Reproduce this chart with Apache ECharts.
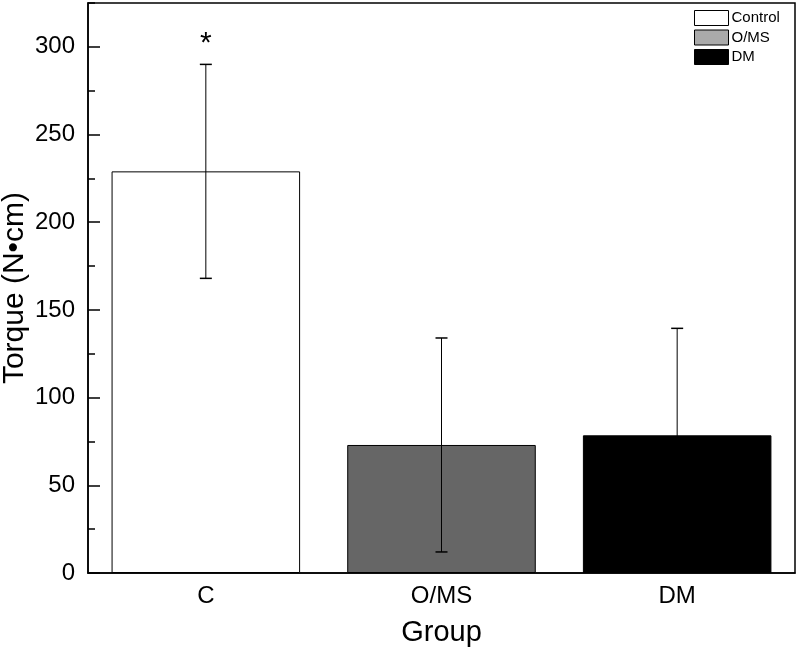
<!DOCTYPE html>
<html>
<head>
<meta charset="utf-8">
<script src="https://cdn.jsdelivr.net/npm/echarts@6/dist/echarts.min.js"></script>
<style>html,body{margin:0;padding:0;background:#fff}#chart{width:800px;height:657px}</style>
</head>
<body>
<div id="chart"></div>
<script>
const categories = ['C', 'O/MS', 'DM'];
const groupNames = ['Control', 'O/MS', 'DM'];
const means = [229, 73, 78.5];
const sds = [61, 61, 61];
const significance = ['*', '', ''];
const barColors = ['#ffffff', '#666666', '#000000'];
const legendColors = ['#ffffff', '#aaaaaa', '#000000'];
const yMin = 0, yMax = 325, yInterval = 50;

const FONT = 'Liberation Sans, Arial, Helvetica, sans-serif';
const chart = echarts.init(document.getElementById('chart'));

const barSeries = groupNames.map((name, i) => ({
  name: name,
  type: 'bar',
  barWidth: '80%',
  barGap: '-100%',
  data: categories.map((c, j) => (j === i ? means[j] : '-')),
  itemStyle: { color: barColors[i], borderColor: '#000', borderWidth: 1 },
  z: 2
}));

const errData = categories.map((c, j) => [j, means[j], sds[j], significance[j]]);

const option = {
  animation: false,
  backgroundColor: '#fff',
  textStyle: { fontFamily: FONT },
  grid: { left: 88, right: 5, top: 3, bottom: 84, show: true, borderColor: '#000', borderWidth: 1.5, backgroundColor: 'transparent', containLabel: false, outerBoundsMode: 'none' },
  legend: {
    orient: 'vertical', left: 689, top: 5, itemWidth: 34, itemHeight: 15, itemGap: 3.5,
    textStyle: { fontFamily: FONT, fontSize: 15, color: '#000', padding: [0, 0, 0, -2] },
    data: groupNames.map((n, i) => ({ name: n, icon: 'rect', itemStyle: { color: legendColors[i], borderColor: '#000', borderWidth: 1 } })),
    selectedMode: false
  },
  xAxis: {
    type: 'category', data: categories,
    name: 'Group', nameLocation: 'middle', nameGap: 45, nameMoveOverlap: false,
    nameTextStyle: { fontFamily: FONT, fontSize: 29, color: '#000' },
    axisLine: { lineStyle: { color: '#000', width: 1.5 } },
    axisTick: { show: false },
    axisLabel: { fontFamily: FONT, fontSize: 24, color: '#000', margin: 11 },
    splitLine: { show: false }
  },
  yAxis: [{
    type: 'value', min: yMin, max: yMax, interval: yInterval,
    name: 'Torque (N\u2022cm)', nameLocation: 'middle', nameGap: 58, nameMoveOverlap: false,
    nameTextStyle: { fontFamily: FONT, fontSize: 30, color: '#000' },
    axisLine: { show: true, lineStyle: { color: '#000', width: 1.5 } },
    axisTick: { show: true, inside: true, length: 12, lineStyle: { color: '#000', width: 1.5 } },
    axisLabel: { fontFamily: FONT, fontSize: 24, color: '#000', margin: 13, showMaxLabel: false },
    splitLine: { show: false }
  }, {
    type: 'value', min: yMin, max: yMax, interval: yInterval / 2, position: 'left',
    axisLine: { show: false },
    axisTick: { show: true, inside: true, length: 7, lineStyle: { color: '#000', width: 1.5 } },
    axisLabel: { show: false },
    splitLine: { show: false }
  }],
  series: barSeries.concat([{
    type: 'custom',
    name: 'err',
    data: errData,
    z: 5,
    renderItem: function (params, api) {
      const x = api.value(0), m = api.value(1), s = api.value(2);
      const top = api.coord([x, m + s]);
      const bot = api.coord([x, m - s]);
      const hw = 6;
      const children = [
        { type: 'line', shape: { x1: top[0], y1: top[1], x2: bot[0], y2: bot[1] }, style: { stroke: '#000', lineWidth: 1 } },
        { type: 'line', shape: { x1: top[0] - hw, y1: top[1], x2: top[0] + hw, y2: top[1] }, style: { stroke: '#000', lineWidth: 1.5 } },
        { type: 'line', shape: { x1: bot[0] - hw, y1: bot[1], x2: bot[0] + hw, y2: bot[1] }, style: { stroke: '#000', lineWidth: 1.5 } }
      ];
      const sig = errData[params.dataIndex][3];
      if (sig) {
        children.push({ type: 'text', style: { text: sig, x: top[0], y: top[1] - 21, align: 'center', verticalAlign: 'middle', fontSize: 30, fontFamily: FONT, fill: '#000' } });
      }
      return { type: 'group', children: children };
    }
  }])
};
chart.setOption(option);
</script>
</body>
</html>
